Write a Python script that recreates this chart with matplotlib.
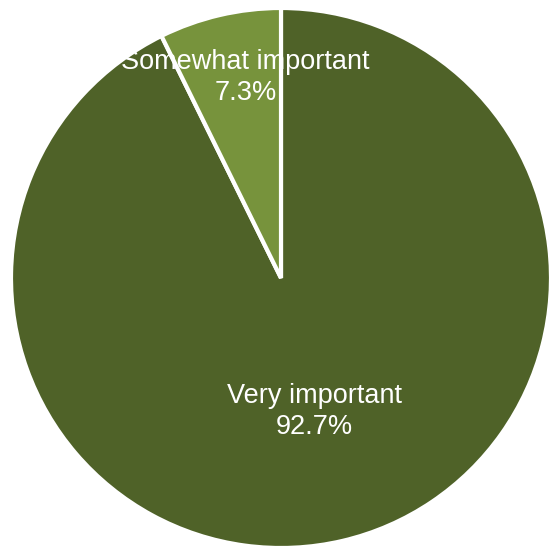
import matplotlib
matplotlib.use("Agg")
import matplotlib.pyplot as plt
import numpy as np

categories = ["Very important", "Somewhat important"]
values = [92.7, 7.3]
colors = ["#4F6228", "#77933C"]
label_dist = [0.51, 0.755]
label_angle_shift = [0.9, -3.1]

plt.rcParams['font.family'] = ['Liberation Sans', 'DejaVu Sans']

fig = plt.figure(figsize=(5.5, 5.5), dpi=100)
ax = fig.add_axes([0, 0, 1, 1])
wedges, _ = ax.pie(values, colors=colors, startangle=90, counterclock=False,
                   wedgeprops=dict(edgecolor="white", linewidth=3.0),
                   radius=1.0)
total = sum(values)
for w, cat, v, d, s in zip(wedges, categories, values, label_dist, label_angle_shift):
    ang = np.deg2rad((w.theta1 + w.theta2) / 2 + s)
    ax.text(d * np.cos(ang), d * np.sin(ang), f"{cat}\n{v / total * 100:.1f}%",
            ha="center", va="center", color="white", fontsize=19.5, linespacing=1.25)

R = 270.0
ax.set_xlim(-281 / R, 269 / R)
ax.set_ylim(-272 / R, 278 / R)
ax.set_aspect("equal")
ax.axis("off")
fig.savefig("out.png", dpi=100)
